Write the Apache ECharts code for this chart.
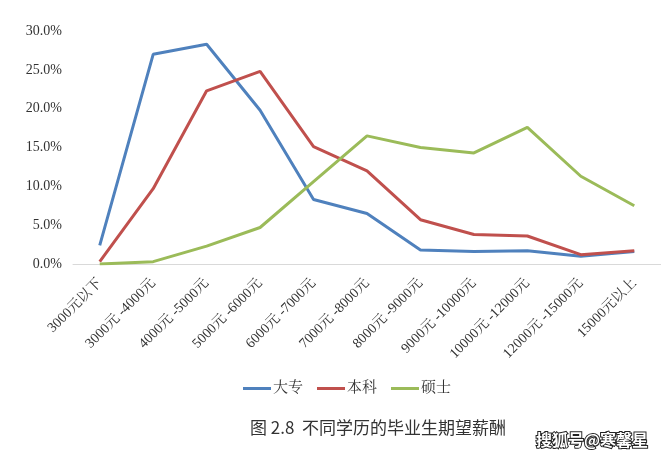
<!DOCTYPE html>
<html><head><meta charset="utf-8">
<script src="https://cdn.jsdelivr.net/npm/echarts@6/dist/echarts.min.js"></script>
<style>html,body{margin:0;padding:0;background:#fff}#c{width:661px;height:458px}</style>
</head><body><div id="c"></div>
<script>
const categories = ['3000元以下','3000元 -4000元','4000元 -5000元','5000元 -6000元','6000元 -7000元','7000元 -8000元','8000元 -9000元','9000元 -10000元','10000元 -12000元','12000元 -15000元','15000元以上'];
const dazhuan = [2.4, 27.0, 28.3, 19.8, 8.3, 6.5, 1.8, 1.6, 1.7, 1.0, 1.6];
const benke   = [0.3, 9.7, 22.3, 24.8, 15.1, 12.0, 5.7, 3.8, 3.6, 1.2, 1.7];
const shuoshi = [0.0, 0.3, 2.3, 4.7, 10.6, 16.5, 15.0, 14.3, 17.6, 11.3, 7.5];
const yTicks = [0, 5, 10, 15, 20, 25, 30];
const seriesNames = ['大专','本科','硕士'];
const colors = ['#4F81BD','#C0504D','#9BBB59'];

const serif = '"Liberation Serif","Noto Serif CJK SC","Noto Sans CJK SC",serif';
const chart = echarts.init(document.getElementById('c'), null, {renderer:'canvas'});
const datas = [dazhuan, benke, shuoshi];
chart.setOption({
  animation:false,
  backgroundColor:'#fff',
  grid:{left:73, top:31, width:590, height:233, containLabel:false},
  legend:{
    data:seriesNames, top:376, left:238, itemWidth:28, itemHeight:3, itemGap:14,
    icon:'rect',
    textStyle:{fontFamily:serif, fontSize:15, color:'#333', padding:[0,0,0,-3]}
  },
  xAxis:{
    type:'category', data:categories, boundaryGap:true,
    axisLine:{lineStyle:{color:'#d9d9d9', width:1}},
    axisTick:{show:false},
    axisLabel:{rotate:45, interval:0, margin:17, fontFamily:serif, fontSize:14, color:'#333'}
  },
  yAxis:{
    type:'value', min:yTicks[0], max:yTicks[yTicks.length-1], interval:5,
    axisLine:{show:false}, axisTick:{show:false}, splitLine:{show:false},
    axisLabel:{margin:11, fontFamily:serif, fontSize:14, color:'#333', formatter:v=>v.toFixed(1)+'%'}
  },
  series: seriesNames.map((n,i)=>({
    name:n, type:'line', data:datas[i], symbol:'none', smooth:false,
    lineStyle:{color:colors[i], width:3}, itemStyle:{color:colors[i]}
  })),
  graphic:[
    {type:'text', left:250, top:419, style:{text:'图 2.8  不同学历的毕业生期望薪酬', fontFamily:'"Noto Sans CJK SC",sans-serif', fontSize:17, fill:'#333'}},
    {type:'text', right:12, top:431, style:{text:'搜狐号@寒馨星', fontFamily:'"Noto Sans CJK SC",sans-serif', fontSize:16, fontWeight:'bold', fill:'#fff', stroke:'#222', lineWidth:2}}
  ]
});
</script></body></html>
